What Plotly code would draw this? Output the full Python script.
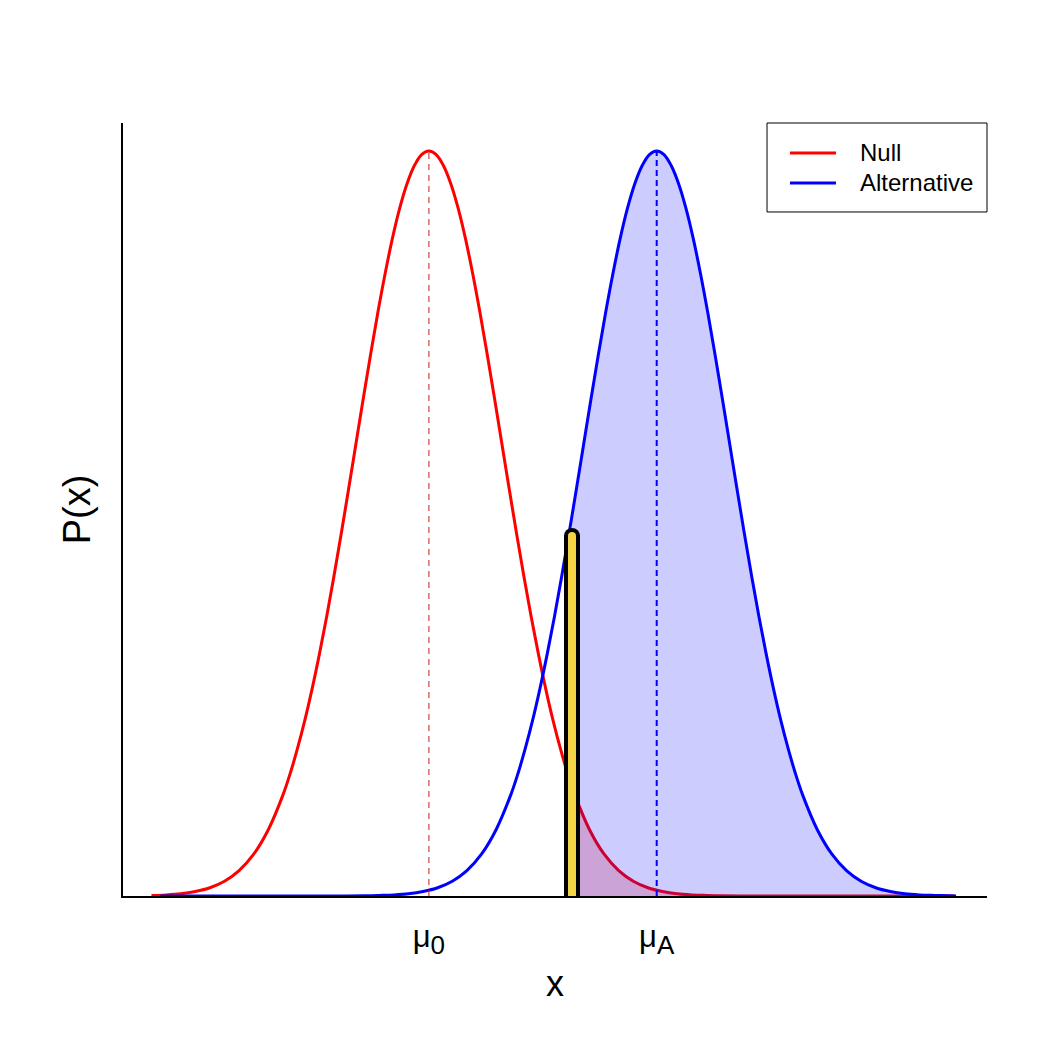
import plotly.graph_objects as go

# ---- data ----
mu0 = 0.0
muA = 3.12
crit_x = 1.96
peak_y = 0.3989

null_x = [-3.8, -3.6, -3.4, -3.2, -3.0, -2.8, -2.6, -2.4, -2.2,
          -2.0, -1.9, -1.8, -1.7, -1.6, -1.5, -1.4, -1.3, -1.2, -1.1, -1.0, -0.9, -0.8, -0.7,
          -0.6, -0.5, -0.4, -0.3, -0.2, -0.1, 0.0, 0.1, 0.2, 0.3, 0.4, 0.5, 0.6, 0.7, 0.8, 0.9,
          1.0, 1.1, 1.2, 1.3, 1.4, 1.5, 1.6, 1.7, 1.8, 1.9, 2.0,
          2.2, 2.4, 2.6, 2.8, 3.0, 3.2, 3.4, 3.6, 3.8, 4.0, 4.4, 4.8, 5.2, 5.6, 6.0, 6.4, 6.8, 7.2]
null_y = [0.0003, 0.0006, 0.0012, 0.0024, 0.0044, 0.0079, 0.0136, 0.0224, 0.0355,
          0.0540, 0.0656, 0.0790, 0.0940, 0.1109, 0.1295, 0.1497, 0.1714, 0.1942, 0.2179,
          0.2420, 0.2661, 0.2897, 0.3123, 0.3332, 0.3521, 0.3683, 0.3814, 0.3910, 0.3970,
          0.3989, 0.3970, 0.3910, 0.3814, 0.3683, 0.3521, 0.3332, 0.3123, 0.2897, 0.2661,
          0.2420, 0.2179, 0.1942, 0.1714, 0.1497, 0.1295, 0.1109, 0.0940, 0.0790, 0.0656,
          0.0540, 0.0355, 0.0224, 0.0136, 0.0079, 0.0044, 0.0024, 0.0012, 0.0006, 0.0003,
          0.0001, 0.0, 0.0, 0.0, 0.0, 0.0, 0.0, 0.0, 0.0]

alt_x = [-3.68, -3.28, -2.88, -2.48, -2.08, -1.68, -1.28, -0.88, -0.68, -0.48, -0.28, -0.08,
         0.12, 0.32, 0.52, 0.72, 0.92,
         1.12, 1.22, 1.32, 1.42, 1.52, 1.62, 1.72, 1.82, 1.92, 2.02, 2.12, 2.22, 2.32, 2.42,
         2.52, 2.62, 2.72, 2.82, 2.92, 3.02, 3.12, 3.22, 3.32, 3.42, 3.52, 3.62, 3.72, 3.82,
         3.92, 4.02, 4.12, 4.22, 4.32, 4.42, 4.52, 4.62, 4.72, 4.82, 4.92, 5.02, 5.12,
         5.32, 5.52, 5.72, 5.92, 6.12, 6.32, 6.52, 6.72, 6.92, 7.12, 7.22]
alt_y = [0.0, 0.0, 0.0, 0.0, 0.0, 0.0, 0.0, 0.0001, 0.0003, 0.0006, 0.0012, 0.0024,
         0.0044, 0.0079, 0.0136, 0.0224, 0.0355,
         0.0540, 0.0656, 0.0790, 0.0940, 0.1109, 0.1295, 0.1497, 0.1714, 0.1942, 0.2179,
         0.2420, 0.2661, 0.2897, 0.3123, 0.3332, 0.3521, 0.3683, 0.3814, 0.3910, 0.3970,
         0.3989, 0.3970, 0.3910, 0.3814, 0.3683, 0.3521, 0.3332, 0.3123, 0.2897, 0.2661,
         0.2420, 0.2179, 0.1942, 0.1714, 0.1497, 0.1295, 0.1109, 0.0940, 0.0790, 0.0656,
         0.0540, 0.0355, 0.0224, 0.0136, 0.0079, 0.0044, 0.0024, 0.0012, 0.0006, 0.0003,
         0.0001, 0.0]

null_at_crit = 0.0584
alt_at_crit = 0.2036
bar_top = 0.1928

tick_vals = [mu0, muA]
tick_text = ["μ<sub><span style='font-size:26px'>0</span></sub>",
             "μ<sub><span style='font-size:26px'>A</span></sub>"]
series_names = ["Null", "Alternative"]

# ---- build ----
FONT = "Liberation Sans, Arial, Helvetica, sans-serif"
RED = "#FF0000"
BLUE = "#0000FF"
YELLOW = "#F4D345"

null_fill_x = [crit_x] + [x for x in null_x if x > crit_x]
null_fill_y = [null_at_crit] + [y for x, y in zip(null_x, null_y) if x > crit_x]
alt_fill_x = [crit_x] + [x for x in alt_x if x > crit_x]
alt_fill_y = [alt_at_crit] + [y for x, y in zip(alt_x, alt_y) if x > crit_x]

fig = go.Figure()

fig.add_trace(go.Scatter(x=null_x, y=null_y, mode="lines", name=series_names[0],
                         line=dict(color=RED, width=3, shape="spline"), showlegend=False))
fig.add_trace(go.Scatter(x=null_fill_x, y=null_fill_y, mode="lines", fill="tozeroy",
                         fillcolor="rgba(255,0,0,0.2)", line=dict(width=0, shape="spline"),
                         showlegend=False, hoverinfo="skip"))
fig.add_trace(go.Scatter(x=alt_fill_x, y=alt_fill_y, mode="lines", fill="tozeroy",
                         fillcolor="rgba(0,0,255,0.2)", line=dict(width=0, shape="spline"),
                         showlegend=False, hoverinfo="skip"))
fig.add_trace(go.Scatter(x=alt_x, y=alt_y, mode="lines", name=series_names[1],
                         line=dict(color=BLUE, width=3, shape="spline"), showlegend=False))

# dashed mean lines
fig.add_trace(go.Scatter(x=[mu0, mu0], y=[0, peak_y], mode="lines",
                         line=dict(color="#C02020", width=1, dash="6px,5px"),
                         showlegend=False, hoverinfo="skip"))
fig.add_trace(go.Scatter(x=[muA, muA], y=[0, peak_y], mode="lines",
                         line=dict(color=BLUE, width=2, dash="6px,4px"),
                         showlegend=False, hoverinfo="skip"))

# critical value bar (black outline, yellow core, round top)
fig.add_trace(go.Scatter(x=[crit_x, crit_x], y=[-0.01, bar_top], mode="lines",
                         line=dict(color="black", width=16), showlegend=False, hoverinfo="skip"))
fig.add_trace(go.Scatter(x=[crit_x], y=[bar_top], mode="markers",
                         marker=dict(color="black", size=16, line=dict(width=0)),
                         showlegend=False, hoverinfo="skip"))
fig.add_trace(go.Scatter(x=[crit_x, crit_x], y=[-0.01, bar_top], mode="lines",
                         line=dict(color=YELLOW, width=8), showlegend=False, hoverinfo="skip"))
fig.add_trace(go.Scatter(x=[crit_x], y=[bar_top], mode="markers",
                         marker=dict(color=YELLOW, size=8, line=dict(width=0)),
                         showlegend=False, hoverinfo="skip"))

# legend box (drawn in plot-area coordinates)
shapes = [
    dict(type="rect", xref="paper", yref="paper", x0=0.7454, x1=1.0, y0=0.8849, y1=1.0,
         line=dict(color="black", width=1), fillcolor="white", layer="above"),
    dict(type="line", xref="paper", yref="paper", x0=0.7720, x1=0.8252, y0=0.9612, y1=0.9612,
         line=dict(color=RED, width=3), layer="above"),
    dict(type="line", xref="paper", yref="paper", x0=0.7720, x1=0.8252, y0=0.9224, y1=0.9224,
         line=dict(color=BLUE, width=3), layer="above"),
]
annotations = [
    dict(text=series_names[0], xref="paper", yref="paper", x=0.8507, y=0.9612,
         xanchor="left", yanchor="middle", showarrow=False,
         font=dict(size=24, family=FONT, color="black")),
    dict(text=series_names[1], xref="paper", yref="paper", x=0.8507, y=0.9224,
         xanchor="left", yanchor="middle", showarrow=False,
         font=dict(size=24, family=FONT, color="black")),
]

fig.update_layout(
    width=1050, height=1050,
    margin=dict(l=123, r=63, t=123, b=154, pad=0),
    paper_bgcolor="white", plot_bgcolor="white",
    font=dict(family=FONT, color="black"),
    showlegend=False,
    shapes=shapes, annotations=annotations,
    xaxis=dict(range=[-4.19, 7.644], showline=True, linecolor="black", linewidth=2,
               showgrid=False, zeroline=False, ticks="",
               tickvals=tick_vals, ticktext=tick_text,
               tickfont=dict(size=31, family=FONT), ticklabelstandoff=12,
               title=dict(text="x", font=dict(size=36, family=FONT), standoff=12)),
    yaxis=dict(range=[0, 0.4139], showline=True, linecolor="black", linewidth=2,
               showgrid=False, zeroline=False, ticks="", showticklabels=False,
               title=dict(text="P(x)", font=dict(size=38, family=FONT), standoff=19)),
)

fig.write_html("out.html")
